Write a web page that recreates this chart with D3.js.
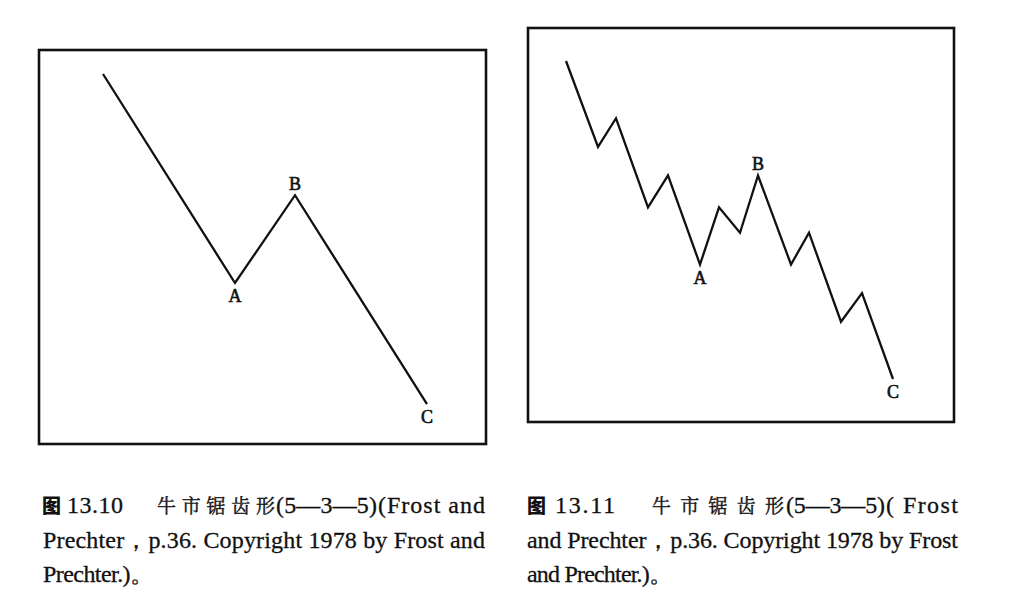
<!DOCTYPE html>
<html>
<head>
<meta charset="utf-8">
<script src="https://cdn.jsdelivr.net/npm/d3@7"></script>
<style>
  html, body { margin: 0; padding: 0; background: #fff; }
  svg { display: block; }
</style>
</head>
<body>
<svg id="chart" width="1013" height="604"></svg>
<script>
// Figure 13.10: simple zigzag A-B-C
const zigzagTime  = [0, 11, 16, 27];
const zigzagPrice = [100, 50, 71, 21];
const zigzagLabels = [null, "A", "B", "C"];

// Figure 13.11: the same zigzag subdivided 5-3-5
const detailTime  = [0, 32, 50, 82, 102, 134, 153, 174, 192, 225, 243, 275, 296, 327];
const detailPrice = [100, 73, 82, 54, 64, 36, 54, 46, 64, 36, 46, 18, 27, 0];
const detailLabels = [null, null, null, null, null, "A", null, null, "B", null, null, null, null, "C"];

// Captions (segments of each line)
const captionLeft = [
  [{t: "图", x: 42, w: 17, cjk: true, bold: true}, {t: "13.10", x: 67, w: 56},
   {t: "牛市锯齿形", x: 157, w: 118, cjk: true}, {t: "(5—3—5)", x: 276, w: 101},
   {t: "(Frost and", x: 378, w: 107}],
  [{t: "Prechter，p.36. Copyright 1978 by Frost and", x: 43, w: 442}],
  [{t: "Prechter.)。", x: 43, w: 111}]
];
const captionRight = [
  [{t: "图", x: 527, w: 17, cjk: true, bold: true}, {t: "13.11", x: 555, w: 60},
   {t: "牛市锯齿形", x: 652, w: 132, cjk: true}, {t: "(5—3—5)", x: 786, w: 99},
   {t: "( Frost", x: 886, w: 72}],
  [{t: "and Prechter，p.36. Copyright 1978 by Frost", x: 527, w: 431}],
  [{t: "and Prechter.)。", x: 527, w: 146}]
];
const captionBaselines = [513, 548, 582];

const SERIF = '"Liberation Serif", "Times New Roman", serif';
const SONG = '"Noto Serif CJK SC", "Noto Sans CJK SC", serif';

const svg = d3.select("#chart");

function panel(frame, xRange, yRange, time, price, labels, yDomain) {
  const g = svg.append("g");
  g.append("rect")
    .attr("x", frame[0]).attr("y", frame[1])
    .attr("width", frame[2] - frame[0]).attr("height", frame[3] - frame[1])
    .attr("fill", "none").attr("stroke", "#111").attr("stroke-width", 2.6);

  const x = d3.scaleLinear().domain(d3.extent(time)).range(xRange);
  const y = d3.scaleLinear().domain(yDomain).range(yRange);
  const pts = time.map((t, i) => ({t, p: price[i], label: labels[i], i}));

  g.append("path")
    .datum(pts)
    .attr("fill", "none")
    .attr("stroke", "#111")
    .attr("stroke-width", 2.3)
    .attr("stroke-linejoin", "miter")
    .attr("d", d3.line().x(d => x(d.t)).y(d => y(d.p)));

  g.selectAll("text.wave")
    .data(pts.filter(d => d.label))
    .join("text")
    .attr("class", "wave")
    .attr("x", d => x(d.t))
    .attr("y", d => {
      const prev = pts[d.i - 1];
      const isHigh = prev && prev.p < d.p;
      return y(d.p) + (isHigh ? -5 : 19);
    })
    .attr("text-anchor", "middle")
    .style("font-family", SERIF)
    .style("font-size", "18px")
    .attr("fill", "#111")
    .attr("stroke", "#111").attr("stroke-width", 0.6)
    .text(d => d.label);
}

panel([39, 50, 486, 444], [103, 427], [74, 283], zigzagTime, zigzagPrice, zigzagLabels, [100, 50]);
panel([528, 28, 954, 422], [566, 893], [379, 61], detailTime, detailPrice, detailLabels, [0, 100]);

function caption(lines) {
  const g = svg.append("g");
  lines.forEach((segs, li) => {
    segs.forEach(s => {
      g.append("text")
        .attr("x", s.x)
        .attr("y", captionBaselines[li])
        .attr("textLength", s.w)
        .attr("lengthAdjust", "spacing")
        .style("font-family", s.bold ? '"Noto Sans CJK SC", sans-serif' : (s.cjk ? SONG : SERIF))
        .style("font-weight", s.bold ? 900 : 400)
        .style("font-size", s.cjk ? "19px" : "24px")
        .attr("fill", "#111")
        .attr("stroke", s.bold ? "none" : "#111")
        .attr("stroke-width", s.cjk ? 0.4 : 0.3)
        .text(s.t);
    });
  });
}
caption(captionLeft);
caption(captionRight);
</script>
</body>
</html>
